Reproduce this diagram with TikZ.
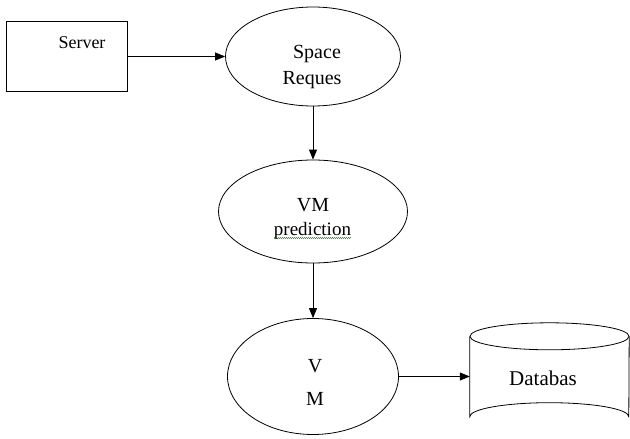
\documentclass[tikz,border=0pt]{standalone}
\usepackage{fontspec}
\setmainfont{Liberation Serif}
\usetikzlibrary{arrows.meta,shapes.geometric,decorations.pathmorphing}
\begin{document}
\begin{tikzpicture}[x=1pt,y=-1pt,
  shapeline/.style={draw=black,line width=0.8pt},
  boxnode/.style={shapeline,rectangle,inner sep=0pt},
  ellnode/.style={shapeline,ellipse,inner sep=0pt},
  lbl/.style={anchor=base,inner sep=0pt,font=\rmfamily\fontsize{20}{24}\selectfont},
  flow/.style={line width=0.8pt,-{Triangle[length=10pt,width=8pt]}}]
\useasboundingbox (0,0) rectangle (630,439);
\fill[white] (0,0) rectangle (630,439);
% Server
\node[boxnode,minimum width=121pt,minimum height=70pt] (server) at (66.5,56.5) {};
\node[lbl,font=\rmfamily\fontsize{18}{22}\selectfont] (serverlbl) at (82,48) {Server};
% Space Reques
\node[ellnode,minimum width=175pt,minimum height=99pt] (req) at (313,56.5) {};
\node[lbl] (reqa) at (317,58) {Space};
\node[lbl] (reqb) at (312,84) {Reques};
% VM prediction
\node[ellnode,minimum width=189pt,minimum height=103pt] (pred) at (313,211.5) {};
\node[lbl] (preda) at (313,211) {VM};
\node[lbl,font=\rmfamily\fontsize{19}{22}\selectfont] (predb) at (312.5,235) {prediction};
\draw[green!60!black,line width=0.4pt,decorate,decoration={snake,amplitude=0.6pt,segment length=2pt}] (predb.base west)++(0,3) -- (predb.base east|-0,238);
% VM
\node[ellnode,minimum width=171pt,minimum height=116pt] (vm) at (313,376.5) {};
\node[lbl] (vma) at (315,372) {V};
\node[lbl] (vmb) at (315,405) {M};
% Database
\node[inner sep=0pt,minimum width=159pt,minimum height=80pt] (db) at (549.5,376.5) {};
\draw[shapeline] (db.north) ellipse [x radius=79.5pt,y radius=13.5pt];
\draw[shapeline] (db.north west) -- (db.south west)
  arc[start angle=180,end angle=360,x radius=79.5pt,y radius=-14pt] -- (db.north east);
\node[lbl,font=\rmfamily\fontsize{21}{25}\selectfont] (dblbl) at (543,385) {Databas};
% connectors
\draw[flow] (server.east) -- (req.west);
\draw[flow] (req.south) -- (pred.north);
\draw[flow] (pred.south) -- (vm.north);
\draw[flow] (vm.east) -- (db.west);
\end{tikzpicture}
\end{document}
